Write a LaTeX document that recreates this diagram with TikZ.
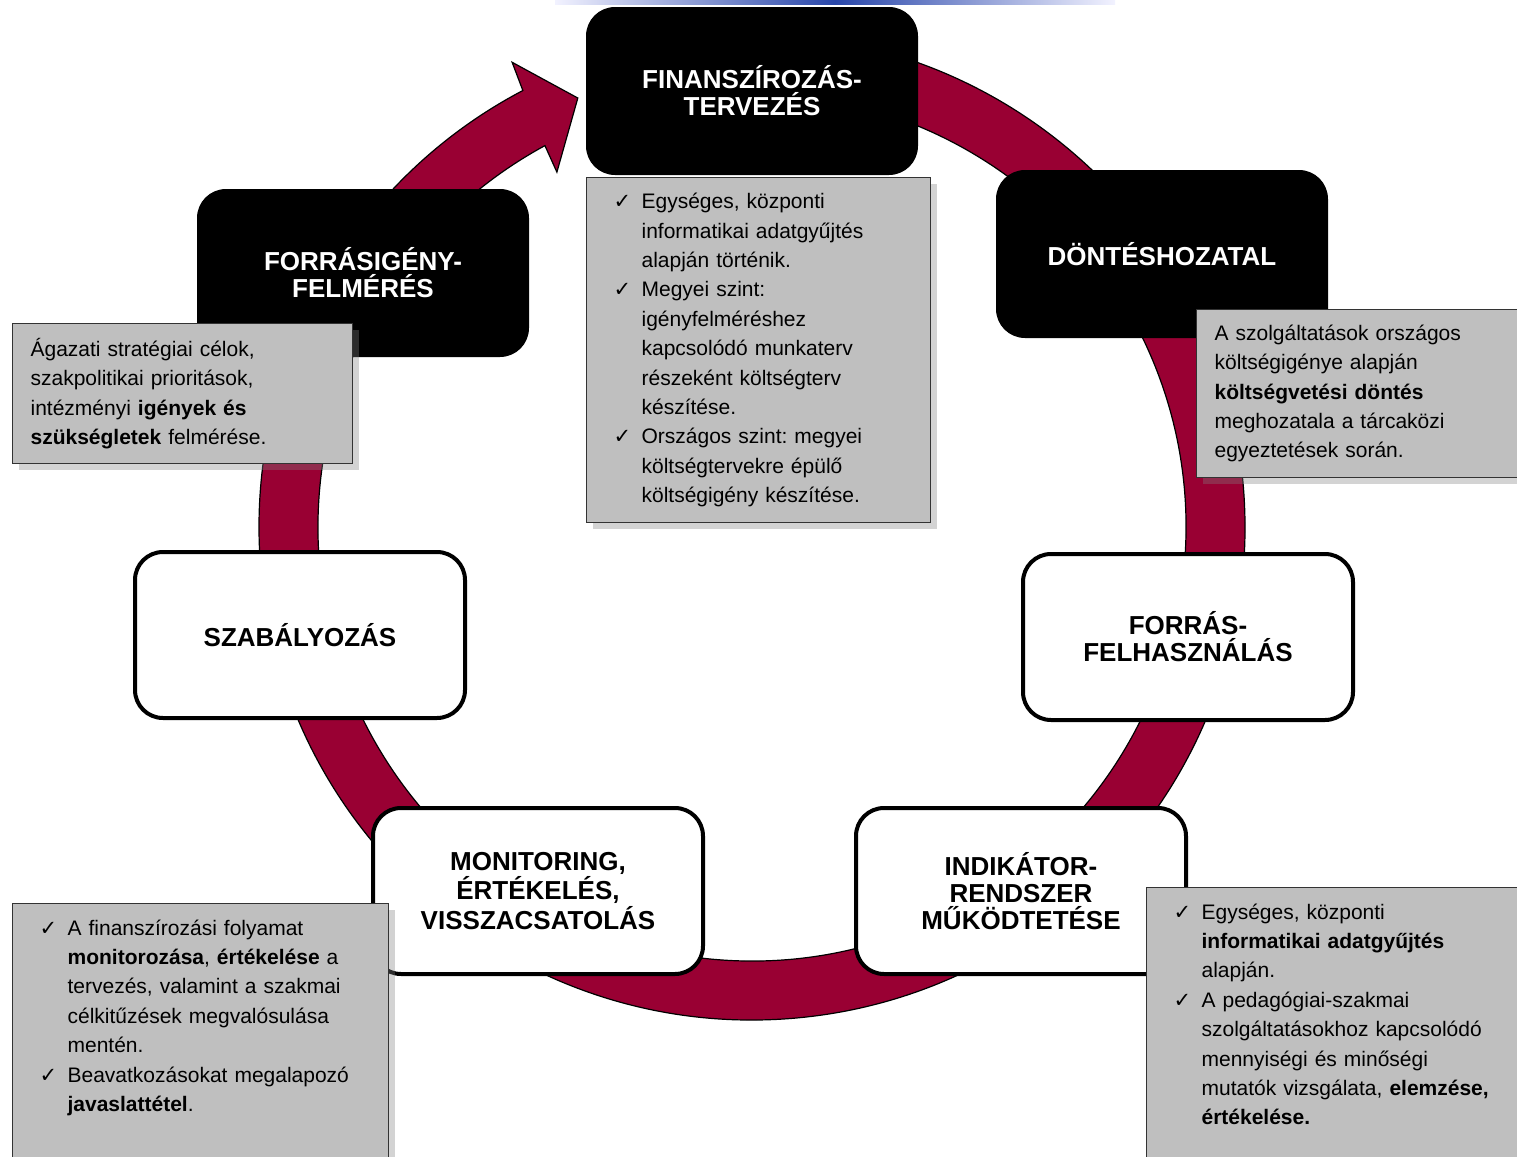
\documentclass[tikz,border=0pt]{standalone}
\usepackage{fontspec}
\setmainfont{Liberation Sans}
\newfontfamily\chkfont{DejaVu Sans}
\usetikzlibrary{positioning, shadows}
\definecolor{bordo}{RGB}{153,0,51}
\definecolor{szurke}{RGB}{191,191,191}
\definecolor{kek}{RGB}{40,70,170}
\tikzset{korlap/.style={rectangle, rounded corners=14pt, minimum width=165pt, minimum height=83pt, align=center, font=\fontsize{13}{13.5}\selectfont\bfseries}}
\tikzset{fekete/.style={korlap, fill=black, draw=black, text=white, line width=1pt}}
\tikzset{feher/.style={korlap, fill=white, draw=black, line width=2pt}}
\tikzset{info/.style={rectangle, fill=szurke, draw=black!80, line width=0.6pt, drop shadow={shadow xshift=3pt, shadow yshift=-3pt, opacity=0.35}, inner xsep=9pt, inner ysep=5pt, align=left, anchor=north west, font=\fontsize{10.5}{14.7}\selectfont\frenchspacing}}
\newcommand{\pipa}{\noindent\hangindent=18.5pt\hangafter=1\hspace*{4.5pt}\makebox[14pt][l]{\chkfont\char"2713}}

\begin{document}
\begin{tikzpicture}[x=0.5pt, y=0.5pt]
    \useasboundingbox (0,0) rectangle (1517,-1157);
    \clip (0,0) rectangle (1517,-1157);

    % blue strip at the top edge
    \shade[left color=blue!5, right color=blue!5, middle color=kek] (555,0) rectangle (1115,-4);

    % ring with arrow head
    \begin{scope}[shift={(752,-527)}]
        \filldraw[fill=bordo, draw=black, line width=0.6pt] (95:493) arc[start angle=95, end angle=-242.3, radius=493]
            -- (-242.7:523) -- (-247.9:463) -- (-241.2:405) -- (-241.5:434)
            arc[start angle=-241.5, end angle=95, radius=434] -- cycle;
    \end{scope}

    \node[fekete] (fin) at (752,-91) {FINANSZÍROZÁS-\\TERVEZÉS};
    \node[fekete] (forr) at (363,-273) {FORRÁSIGÉNY-\\FELMÉRÉS};
    \node[fekete] (dont) at (1162,-254) {DÖNTÉSHOZATAL};
    \node[feher] (szab) at (300,-635) {SZABÁLYOZÁS};
    \node[feher] (felh) at (1188,-637) {FORRÁS-\\FELHASZNÁLÁS};
    \node[feher] (moni) at (538,-891) {MONITORING,\\ÉRTÉKELÉS,\\VISSZACSATOLÁS};
    \node[feher] (indi) at (1021,-891) {INDIKÁTOR-\\RENDSZER\\MŰKÖDTETÉSE};

    % gray notes
    \node[info, text width=152pt, minimum height=70pt] (forrinfo) at (12,-323)
        {Ágazati stratégiai célok,\\ szakpolitikai prioritások,\\ intézményi \textbf{igények és}\\ \textbf{szükségletek} felmérése.};
    \node[info, text width=154pt, minimum height=172.5pt, below=1pt of fin.south west, anchor=north west] (fininfo)
        {\pipa Egységes, központi\newline informatikai adatgyűjtés\newline alapján történik.\par
         \pipa Megyei szint:\newline igényfelméréshez\newline kapcsolódó munkaterv\newline részeként költségterv\newline készítése.\par
         \pipa Országos szint: megyei\newline költségtervekre épülő\newline költségigény készítése.\par};
    \node[info, text width=160pt, minimum height=84pt] (dontinfo) at (1196,-309)
        {A szolgáltatások országos\\ költségigénye alapján\\ \textbf{költségvetési döntés}\\ meghozatala a tárcaközi\\ egyeztetések során.};
    \node[info, text width=170pt, inner ysep=8pt] (moniinfo) at (12,-903)
        {\pipa A finanszírozási folyamat\newline \textbf{monitorozása}, \textbf{értékelése} a\newline tervezés, valamint a szakmai\newline célkitűzések megvalósulása\newline mentén.\par
         \pipa Beavatkozásokat megalapozó\newline \textbf{javaslattétel}.\par
         \rule{0pt}{60pt}};
    \node[info, text width=180pt, inner ysep=8pt] (indiinfo) at (1146,-887)
        {\pipa Egységes, központi\newline \textbf{informatikai adatgyűjtés}\newline alapján.\par
         \pipa A pedagógiai-szakmai\newline szolgáltatásokhoz kapcsolódó\newline mennyiségi és minőségi\newline mutatók vizsgálata, \textbf{elemzése,}\newline \textbf{értékelése.}\par
         \rule{0pt}{60pt}};
\end{tikzpicture}
\end{document}
